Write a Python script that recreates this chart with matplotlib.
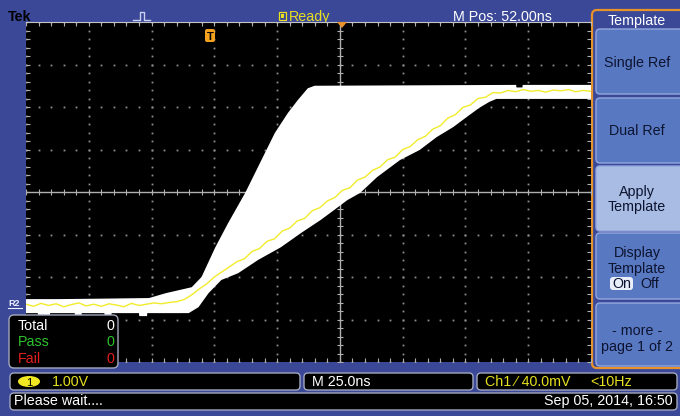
import numpy as np
import matplotlib.pyplot as plt
from matplotlib.patches import FancyBboxPatch, Rectangle, Polygon, Ellipse

plt.rcParams['font.family'] = ['Liberation Sans', 'DejaVu Sans']

# ---- values: time in ns, level in V ----
trace_t = [-73, -70, -67, -64, -61, -58, -55, -52, -49, -46, -43, -40, -37, -34,
           -31, -28, -25, -22, -19, -16, -13, -10, -7, -4, -1, 2, 5, 8, 11, 14,
           17, 20, 23, 26, 29, 32, 35, 38, 41, 44, 47, 50, 53, 56, 59, 62, 65,
           68, 71, 74, 77, 80, 83, 86, 89, 92, 95, 98, 101, 104, 107, 110, 113,
           116, 119, 122, 125, 128, 131, 134, 137, 140, 143, 146, 149, 152]
trace_v = [0.02, -0.03, 0.04, -0.01, 0.03, -0.04, 0.01, 0.05, -0.02, 0.02,
           -0.03, 0.03, 0.00, -0.04, 0.04, -0.01, 0.02, 0.05, 0.03, 0.06,
           0.08, 0.13, 0.24, 0.38, 0.50, 0.66, 0.78, 0.90,
           1.02, 1.09, 1.26, 1.33, 1.50, 1.56, 1.74, 1.81, 1.98, 2.04, 2.22,
           2.29, 2.45, 2.53, 2.70, 2.76, 2.94, 3.01, 3.17, 3.25, 3.42, 3.48,
           3.66, 3.73, 3.89, 3.97, 4.14, 4.22, 4.40, 4.48, 4.65, 4.71, 4.86,
           4.89, 5.00, 4.99, 5.05,
           5.02, 5.07, 5.03, 5.05, 5.01, 5.06, 5.04, 5.07, 5.02, 5.05, 5.03]

# template (mask) envelope
upper_t = [-73, -60, -44, -24, -17.3, -7, -3.1, 2.4, 7.5, 14.3, 19.4, 26.1,
           31.3, 35.2, 39.2, 41.9, 122.2, 122.3, 124.7, 124.8, 153]
upper_v = [0.14, 0.14, 0.15, 0.165, 0.28, 0.42, 0.66, 1.36, 1.93, 2.64, 3.25,
           4.05, 4.52, 4.82, 5.10, 5.16, 5.18, 5.12, 5.12, 5.18, 5.18]
lower_t = [-73, -68.3, -68.2, -63.5, -63.4, -53.6, -53.5, -50.9, -50.8, -41.8,
           -41.7, -39.0, -38.9, -28.0, -27.9, -24.8, -24.7, -8.2, -4.3, -0.3,
           4.8, 11.5, 19.4, 28.5, 36.4, 44.3, 49.8, 55.0, 60.1, 66.8, 75.9,
           83.8, 90.5, 97.2, 102.4, 107.5, 111.5, 114.3, 153]
lower_v = [-0.19, -0.19, -0.26, -0.26, -0.19, -0.19, -0.26, -0.26, -0.19,
           -0.19, -0.26, -0.26, -0.19, -0.19, -0.26, -0.26, -0.19, -0.19,
           -0.05, 0.28, 0.59, 0.75, 1.06, 1.36, 1.69, 2.00, 2.24, 2.47, 2.64,
           3.01, 3.41, 3.65, 3.95, 4.19, 4.42, 4.64, 4.78, 4.85, 4.85]

ns_per_div = 25.0
v_per_div = 1.0
m_pos = 52.0
v_centre = 2.66

menu_labels = [["Single Ref"], ["Dual Ref"], ["Apply", "Template"],
               ["Display", "Template"], ["- more -", "page 1 of 2"]]

FRAME = '#3b4897'
BTN = '#5878c2'
BTN_HI = '#a8bce4'
BTN_EDGE = '#93a9de'
ORANGE = '#e8922a'
YEL = '#e6e01e'
BOXEDGE = '#a3a8bd'
FS = 10.3


def box(ax, x0, y0, x1, y1, fc, ec='none', r=4, lw=1.0, z=1):
    p = FancyBboxPatch((x0, y0), x1 - x0, y1 - y0,
                       boxstyle=f"round,pad=0,rounding_size={r}",
                       fc=fc, ec=ec, lw=lw, zorder=z)
    ax.add_patch(p)
    return p


fig = plt.figure(figsize=(6.8, 4.16), dpi=100)
fig.patch.set_facecolor(FRAME)

bg = fig.add_axes([0, 0, 1, 1])
bg.set_xlim(0, 680)
bg.set_ylim(416, 0)
bg.axis('off')

# ---- waveform screen ----
scr = fig.add_axes([26 / 680, 54 / 416, 565 / 680, 340 / 416])
scr.set_facecolor('black')
t_left = m_pos - 5 * ns_per_div
t_right = t_left + 565 / 63.3 * ns_per_div
scr.set_xlim(t_left, t_right)
scr.set_ylim(v_centre - 4 * v_per_div, v_centre + 4 * v_per_div)

major_x = t_left + ns_per_div * np.arange(0, 9)
minor_x = t_left + ns_per_div / 5 * np.arange(0, 46)
major_y = v_centre + v_per_div * np.arange(-4, 5)
minor_y = v_centre + v_per_div / 5 * np.arange(-20, 21)

dot = dict(marker='s', ms=1.3, mew=0, color='#8e8e8e', ls='none', zorder=1)
for x in major_x:
    if abs(x - m_pos) > 1e-6:
        scr.plot(np.full_like(minor_y, x), minor_y, **dot)
for y in major_y:
    if abs(y - v_centre) > 1e-6:
        scr.plot(minor_x, np.full_like(minor_x, y), **dot)

grey = '#b0b0b0'
scr.axvline(m_pos, color=grey, lw=1, zorder=1)
scr.axhline(v_centre, color=grey, lw=1, zorder=1)
scr.plot(minor_x, np.full_like(minor_x, v_centre), marker='|', ms=4,
         mew=0.8, color=grey, ls='none', zorder=1)
scr.plot(np.full_like(minor_y, m_pos), minor_y, marker='_', ms=4,
         mew=0.8, color=grey, ls='none', zorder=1)

scr.set_xticks(minor_x)
scr.set_yticks(minor_y)
scr.tick_params(which='both', direction='in', length=3, width=0.8,
                color=grey, top=True, right=True,
                labelbottom=False, labelleft=False)
for s in scr.spines.values():
    s.set_visible(False)
scr.spines['top'].set_visible(True)
scr.spines['top'].set_color('#c4c4c4')

band_t = upper_t + lower_t[::-1]
band_v = upper_v + lower_v[::-1]
scr.fill(band_t, band_v, color='white', lw=0, zorder=2)
scr.plot(trace_t, trace_v, color='#f2ec2c', lw=1.0, zorder=3)

# ---- top bar ----
bg.text(8, 21, "Tek", fontsize=FS, fontweight='bold', color='black')
bg.plot([133, 140, 140, 144, 144, 150], [20, 20, 12, 12, 20, 20],
        color='#c9d2f2', lw=1)
bg.add_patch(Rectangle((278.5, 11.5), 7, 8, fc='none', ec=YEL, lw=0.9))
bg.add_patch(Rectangle((280.5, 13.5), 3, 4, fc=YEL, ec='none'))
bg.text(289, 21, "Ready", fontsize=FS, color=YEL)
bg.text(453, 21, "M Pos: 52.00ns", fontsize=FS, color='white')

# ---- side menu ----
box(bg, 592, 10, 700, 368, fc=FRAME, ec=ORANGE, r=5, lw=1.6)
bg.text(637, 25, "Template", fontsize=FS, color='white', ha='center')
btn_rows = [(29, 94), (98, 163), (166, 231), (233, 299), (303, 366)]
for i, (y0, y1) in enumerate(btn_rows):
    box(bg, 596, y0, 700, y1, fc=BTN_HI if i == 2 else BTN, ec=BTN_EDGE,
        r=4, lw=1, z=2)
btn_base = [[67], [135], [196, 211], [257, 273], [335, 351]]
for labels, bases in zip(menu_labels, btn_base):
    for lab, yb in zip(labels, bases):
        bg.text(637, yb, lab, fontsize=FS, color='#0d1430', ha='center',
                zorder=3)
box(bg, 610, 277, 633, 290, fc='#e9eef9', r=3, z=3)
bg.text(621.5, 288, "On", fontsize=FS, color='#0d1430', ha='center', zorder=4)
bg.text(640, 288, "Off", fontsize=FS, color='#0d1430', zorder=4)

# ---- bottom status bars ----
box(bg, 10, 373, 300, 390, fc='black', ec=BOXEDGE, r=4)
box(bg, 304, 373, 473, 390, fc='black', ec=BOXEDGE, r=4)
box(bg, 477, 373, 677, 390, fc='black', ec=BOXEDGE, r=4)
box(bg, 10, 393, 677, 410, fc='black', ec=BOXEDGE, r=4)
bg.add_patch(Ellipse((29, 381.5), 22, 11, fc='#f2e822', ec='none', zorder=2))
bg.text(29, 385.5, "1", fontsize=8, color='black', ha='center', zorder=3)
bg.text(52, 386, "1.00V", fontsize=FS, color=YEL)
bg.text(312, 386, "M 25.0ns", fontsize=FS, color='white')
bg.text(485, 386, "Ch1 \u2044 40.0mV", fontsize=FS, color=YEL)
bg.text(590, 386, "<10Hz", fontsize=FS, color=YEL)
bg.text(14, 405, "Please wait....", fontsize=FS, color='white')
bg.text(673, 405, "Sep 05, 2014, 16:50", fontsize=FS, color='white',
        ha='right')

# ---- overlays on the screen ----
fg = fig.add_axes([0, 0, 1, 1], zorder=5)
fg.set_xlim(0, 680)
fg.set_ylim(416, 0)
fg.axis('off')

box(fg, 205, 29, 215, 42, fc='#f2a01e', r=2)
fg.text(210, 40, "T", fontsize=8, fontweight='bold', color='black',
        ha='center')
fg.add_patch(Polygon([(337, 22), (347, 22), (342, 28)], fc=ORANGE, ec='none'))
fg.text(8, 306, "R2", fontsize=6.5, fontweight='bold', color='#eef0ff')
fg.plot([8, 22], [308, 308], color='#eef0ff', lw=0.8)

box(fg, 9, 315, 118, 368, fc='black', ec=BOXEDGE, r=5)
for lab, col, yb in [("Total", 'white', 330), ("Pass", '#2cc22c', 346),
                     ("Fail", '#e21e1e', 363)]:
    fg.text(18, yb, lab, fontsize=FS, color=col)
    fg.text(114, yb, "0", fontsize=FS, color=col, ha='right')

fig.savefig('out.png', dpi=100, facecolor=fig.get_facecolor())
